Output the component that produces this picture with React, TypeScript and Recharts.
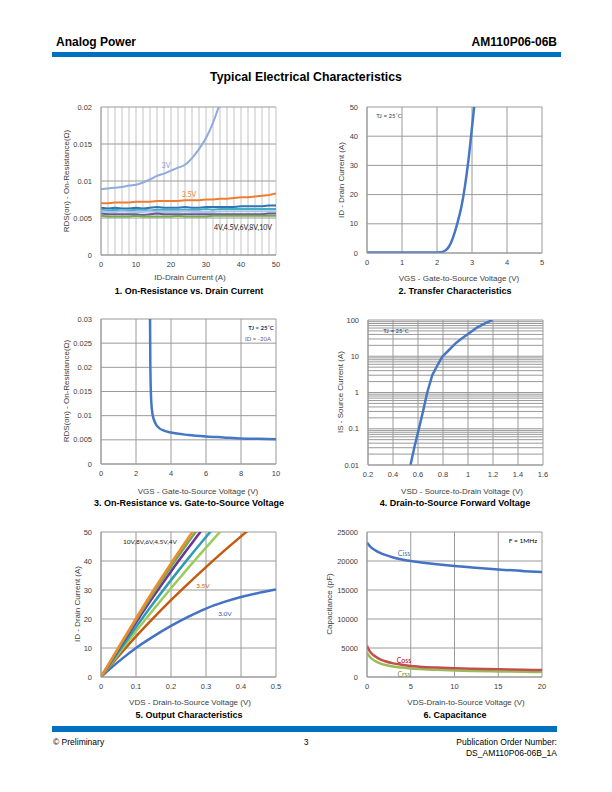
import React from 'react';
import { LineChart, Line, XAxis, YAxis, CartesianGrid } from 'recharts';

const FONT = '"Liberation Sans", Arial, Helvetica, sans-serif';
const NOTE_FONT = 'Lato, "Open Sans", sans-serif';
const BRAND_BLUE = '#0070C0';
const GRID = '#9A9A9A';
const GRID_LIGHT = '#C4C4C4';
const TEXT = '#404040';

// 1. On-Resistance vs. Drain Current (VGS curves)
const idCurrent = [0, 2, 4, 6, 8, 10, 12, 14, 16, 18, 20, 22, 24, 26, 28, 30, 32, 34, 36, 38, 40, 42, 44, 46, 48, 50];
const rds3V = [0.0089, 0.009, 0.0091, 0.0092, 0.0094, 0.0095, 0.0098, 0.0102, 0.0107, 0.011, 0.0114, 0.0118, 0.0122, 0.0131, 0.0143, 0.0158, 0.0179, 0.0205];
const rds35V = [0.007, 0.007, 0.0071, 0.0071, 0.0071, 0.0072, 0.0072, 0.0072, 0.0073, 0.0073, 0.0073, 0.0073, 0.0074, 0.0074, 0.0074, 0.0075, 0.0075, 0.0076, 0.0076, 0.0077, 0.0078, 0.0078, 0.0079, 0.008, 0.0081, 0.0083];
const rds4V = [0.0064, 0.0063, 0.0064, 0.0063, 0.0063, 0.0064, 0.0063, 0.0064, 0.0065, 0.0064, 0.0064, 0.0064, 0.0065, 0.0064, 0.0064, 0.0065, 0.0065, 0.0065, 0.0065, 0.0065, 0.0066, 0.0066, 0.0066, 0.0066, 0.0067, 0.0067];
const rds45V = [0.0061, 0.006, 0.0061, 0.006, 0.006, 0.0061, 0.0061, 0.006, 0.0061, 0.0061, 0.0061, 0.0061, 0.0061, 0.0061, 0.0061, 0.0062, 0.0061, 0.0062, 0.0062, 0.0062, 0.0062, 0.0062, 0.0062, 0.0062, 0.0062, 0.0062];
const rds6V = [0.0059, 0.0058, 0.0058, 0.0059, 0.0058, 0.0058, 0.0058, 0.0059, 0.0058, 0.0058, 0.0058, 0.0058, 0.0059, 0.0058, 0.0058, 0.0058, 0.0058, 0.0059, 0.0059, 0.0059, 0.0059, 0.0059, 0.0059, 0.0059, 0.0059, 0.0059];
const rds8V = [0.0056, 0.0055, 0.0055, 0.0055, 0.0055, 0.0055, 0.0054, 0.0055, 0.0056, 0.0055, 0.0055, 0.0055, 0.0055, 0.0055, 0.0055, 0.0055, 0.0055, 0.0055, 0.0055, 0.0055, 0.0055, 0.0055, 0.0055, 0.0055, 0.0056, 0.0056];
const rds10V = [0.0053, 0.0052, 0.0052, 0.0052, 0.0052, 0.0053, 0.0052, 0.0052, 0.0052, 0.0052, 0.0052, 0.0053, 0.0052, 0.0052, 0.0052, 0.0052, 0.0053, 0.0053, 0.0053, 0.0053, 0.0053, 0.0053, 0.0053, 0.0053, 0.0053, 0.0053];
const idTicks = [0, 2, 4, 6, 8, 10, 12, 14, 16, 18, 20, 22, 24, 26, 28, 30, 32, 34, 36, 38, 40, 42, 44, 46, 48, 50];
const rdsTicks1 = [0, 0.005, 0.01, 0.015, 0.02];

// 2. Transfer Characteristics
const vgsTransfer = [0, 0.5, 1, 1.5, 1.9, 2.1, 2.2, 2.3, 2.4, 2.5, 2.6, 2.7, 2.8, 2.9, 3.0, 3.07];
const idTransfer = [0.2, 0.2, 0.2, 0.2, 0.2, 0.3, 0.6, 1.5, 3.5, 6.8, 11, 16, 23, 32, 43, 51];
const vgsTicks5 = [0, 1, 2, 3, 4, 5];
const idTicks50 = [0, 10, 20, 30, 40, 50];

// 3. On-Resistance vs. Gate-to-Source Voltage
const vgsRds = [2.8, 2.82, 2.87, 2.95, 3.1, 3.3, 3.6, 4, 5, 6, 7, 8, 9, 10];
const rdsVgs = [0.031, 0.02, 0.013, 0.0102, 0.0085, 0.0075, 0.0069, 0.0065, 0.006, 0.0057, 0.0055, 0.0053, 0.0052, 0.0051];
const vgsTicks10 = [0, 2, 4, 6, 8, 10];
const rdsTicks3 = [0, 0.005, 0.01, 0.015, 0.02, 0.025, 0.03];

// 4. Drain-to-Source Forward Voltage
const vsd = [0.54, 0.57, 0.607, 0.64, 0.674, 0.714, 0.76, 0.794, 0.834, 0.9, 0.95, 0.995, 1.075, 1.14, 1.196];
const isCurrent = [0.01, 0.03, 0.1, 0.3, 1, 3, 6, 9.7, 13.3, 22.7, 31, 40, 63, 82, 100];
const vsdTicks = [0.2, 0.4, 0.6, 0.8, 1, 1.2, 1.4, 1.6];
const isDecades = [0.01, 0.1, 1, 10, 100];
const isGridTicks = isDecades.flatMap((d, i) =>
  i === isDecades.length - 1 ? [d] : [1, 2, 3, 4, 5, 6, 7, 8, 9].map((m) => +(d * m).toPrecision(2))
);

// 5. Output Characteristics
const vdsOut = [0, 0.05, 0.1, 0.15, 0.2, 0.25, 0.3, 0.35, 0.4, 0.45, 0.5];
const idOut3V = [0, 5.3, 10, 14, 17.6, 20.8, 23.6, 25.8, 27.6, 29, 30.2];
const idOut35V = [0, 7.2, 14, 20.4, 26.5, 32.3, 37.9, 43.3, 48.5, 53.5, 58.3];
const idOut4V = [0, 8, 15.8, 23.3, 30.6, 37.7, 44.6, 51.4];
const idOut45V = [0, 8.7, 17.2, 25.5, 33.4, 41, 48.3, 55.4];
const idOut6V = [0, 9.5, 18.8, 27.8, 36.4, 44.6, 52.6];
const idOut8V = [0, 9.9, 19.6, 29, 38, 46.6, 55];
const idOut10V = [0, 10.2, 20.2, 29.9, 39.2, 48.1, 56.8];
const vdsTicks = [0, 0.1, 0.2, 0.3, 0.4, 0.5];

// 6. Capacitance
const vdsCap = [0, 0.25, 0.5, 1, 1.5, 2, 3, 4, 5, 6, 8, 10, 12, 15, 18, 20];
const ciss = [23200, 22700, 22300, 21800, 21400, 21100, 20600, 20250, 20000, 19800, 19450, 19150, 18900, 18550, 18250, 18100];
const coss = [5400, 4600, 4100, 3500, 3050, 2750, 2350, 2100, 1900, 1780, 1620, 1500, 1420, 1320, 1240, 1200];
const crss = [4200, 3600, 3200, 2700, 2350, 2100, 1800, 1620, 1480, 1380, 1230, 1120, 1040, 960, 890, 850];
const capVdsTicks = [0, 5, 10, 15, 20];
const capTicks = [0, 5000, 10000, 15000, 20000, 25000];

const pts = (xs: number[], ys: number[]) => ys.map((y, i) => ({ x: xs[i], y }));

const PLOT_W = 175;
const tickStyle = { fontSize: 7.5, fill: TEXT, fontFamily: FONT };
const xCommon = {
  type: 'number' as const,
  dataKey: 'x',
  tickLine: false,
  tickSize: 6,
  tickMargin: 1,
  height: 20,
  interval: 0 as const,
  allowDataOverflow: true,
  axisLine: { stroke: GRID },
  tick: tickStyle,
};
const yCommon = {
  type: 'number' as const,
  dataKey: 'y',
  tickLine: false,
  tickSize: 6,
  tickMargin: 3,
  width: 60,
  interval: 0 as const,
  allowDataOverflow: true,
  axisLine: { stroke: GRID },
  tick: tickStyle,
};
const lineCommon = { type: 'monotone' as const, dataKey: 'y', dot: false, isAnimationActive: false };

function Plot({ left, top, h, children }: { left: number; top: number; h: number; children: React.ReactNode }) {
  return (
    <div style={{ position: 'absolute', left: left - 60, top: top - 10 }}>
      <LineChart width={60 + PLOT_W + 12} height={10 + h + 22} margin={{ top: 10, right: 12, bottom: 2, left: 0 }}>
        {children}
      </LineChart>
    </div>
  );
}

type TxtProps = {
  x: number;
  y: number;
  children: React.ReactNode;
  size?: number;
  color?: string;
  bold?: boolean;
  align?: 'left' | 'center' | 'right';
  font?: string;
  rotate?: boolean;
};

function Txt({ x, y, children, size = 8, color = TEXT, bold = false, align = 'center', font = FONT, rotate = false }: TxtProps) {
  const tx = align === 'center' ? '-50%' : align === 'right' ? '-100%' : '0';
  return (
    <div
      style={{
        position: 'absolute',
        left: x,
        top: y,
        transform: `translate(${tx}, -50%)${rotate ? ' rotate(-90deg)' : ''}`,
        fontSize: size,
        color,
        fontWeight: bold ? 700 : 400,
        fontFamily: font,
        whiteSpace: 'nowrap',
        lineHeight: 1,
      }}
    >
      {children}
    </div>
  );
}

export default function App() {
  return (
    <div style={{ position: 'absolute', left: 0, top: 0, width: 612, height: 792, background: '#fff', fontFamily: FONT, overflow: 'hidden' }}>
      {/* header */}
      <Txt x={56} y={42} size={12} bold color="#000" align="left">Analog Power</Txt>
      <Txt x={557} y={42} size={12} bold color="#000" align="right">AM110P06-06B</Txt>
      <div style={{ position: 'absolute', left: 52, top: 52, width: 509, height: 5, background: BRAND_BLUE }} />
      <Txt x={306} y={77} size={12.3} bold color="#000">Typical Electrical Characteristics</Txt>

      {/* 1 */}
      <Plot left={101} top={107} h={148}>
        <CartesianGrid horizontal={false} stroke={GRID_LIGHT} />
        <CartesianGrid vertical={false} stroke={GRID} />
        <XAxis {...xCommon} domain={[0, 50]} ticks={idTicks} tickFormatter={(v: number) => (v % 10 === 0 ? String(v) : '')} />
        <YAxis {...yCommon} domain={[0, 0.02]} ticks={rdsTicks1} />
        <Line {...lineCommon} data={pts(idCurrent, rds3V)} stroke="#8FAADC" strokeWidth={2} />
        <Line {...lineCommon} type="linear" data={pts(idCurrent, rds35V)} stroke="#ED7D31" strokeWidth={2} />
        <Line {...lineCommon} type="linear" data={pts(idCurrent, rds4V)} stroke="#2E75B6" strokeWidth={2} />
        <Line {...lineCommon} type="linear" data={pts(idCurrent, rds45V)} stroke="#4BACC6" strokeWidth={2} />
        <Line {...lineCommon} type="linear" data={pts(idCurrent, rds6V)} stroke="#A9C8E4" strokeWidth={2} />
        <Line {...lineCommon} type="linear" data={pts(idCurrent, rds8V)} stroke="#7451A2" strokeWidth={2} />
        <Line {...lineCommon} type="linear" data={pts(idCurrent, rds10V)} stroke="#70AD47" strokeWidth={2} />
      </Plot>
      <Txt x={166} y={165} size={7} color="#7F9ED6" font={NOTE_FONT}>3V</Txt>
      <Txt x={189} y={194} size={7} color="#ED7D31" font={NOTE_FONT}>3.5V</Txt>
      <Txt x={243} y={227} size={7} color="#222" font={NOTE_FONT}>4V,4.5V,6V,8V,10V</Txt>
      <Txt x={67} y={181} rotate>RDS(on) - On-Resistance(Ω)</Txt>
      <Txt x={190} y={278}>ID-Drain Current (A)</Txt>
      <Txt x={189} y={291} size={9} bold color="#000">1. On-Resistance vs. Drain Current</Txt>

      {/* 2 */}
      <Plot left={367} top={107} h={146}>
        <CartesianGrid stroke={GRID} />
        <XAxis {...xCommon} domain={[0, 5]} ticks={vgsTicks5} />
        <YAxis {...yCommon} domain={[0, 50]} ticks={idTicks50} />
        <Line {...lineCommon} data={pts(vgsTransfer, idTransfer)} stroke="#4677C5" strokeWidth={2.5} />
      </Plot>
      <Txt x={389} y={116} size={6} color="#1F3864" font={NOTE_FONT}>TJ = 25˚C</Txt>
      <Txt x={342} y={180} rotate>ID - Drain Current (A)</Txt>
      <Txt x={459} y={279}>VGS - Gate-to-Source Voltage (V)</Txt>
      <Txt x={455} y={291} size={9} bold color="#000">2. Transfer Characteristics</Txt>

      {/* 3 */}
      <Plot left={101} top={319} h={145}>
        <CartesianGrid stroke={GRID} />
        <XAxis {...xCommon} domain={[0, 10]} ticks={vgsTicks10} />
        <YAxis {...yCommon} domain={[0, 0.03]} ticks={rdsTicks3} />
        <Line {...lineCommon} data={pts(vgsRds, rdsVgs)} stroke="#4677C5" strokeWidth={2.5} />
      </Plot>
      <Txt x={261} y={328} size={6} bold color="#1F3864" font={NOTE_FONT}>TJ = 25˚C</Txt>
      <Txt x={258} y={339} size={6} color="#6B5A8A" font={NOTE_FONT}>ID = -20A</Txt>
      <Txt x={67} y={391} rotate>RDS(on) - On-Resistance(Ω)</Txt>
      <Txt x={198} y={492}>VGS - Gate-to-Source Voltage (V)</Txt>
      <Txt x={189} y={503} size={9} bold color="#000">3. On-Resistance vs. Gate-to-Source Voltage</Txt>

      {/* 4 */}
      <Plot left={368} top={320} h={145}>
        <CartesianGrid stroke={GRID} />
        <XAxis {...xCommon} domain={[0.2, 1.6]} ticks={vsdTicks} />
        <YAxis
          {...yCommon}
          scale="log"
          domain={[0.01, 100]}
          ticks={isGridTicks}
          tickFormatter={(v: number) => (isDecades.includes(v) ? String(v) : '')}
        />
        <Line {...lineCommon} type="linear" data={pts(vsd, isCurrent)} stroke="#4677C5" strokeWidth={2.5} />
      </Plot>
      <Txt x={396} y={331} size={6} color="#1F3864" font={NOTE_FONT}>TJ = 25˚C</Txt>
      <Txt x={341} y={392} rotate>IS - Source Current (A)</Txt>
      <Txt x={462} y={492}>VSD - Source-to-Drain Voltage (V)</Txt>
      <Txt x={455} y={503} size={9} bold color="#000">4. Drain-to-Source Forward Voltage</Txt>

      {/* 5 */}
      <Plot left={101} top={532} h={145}>
        <CartesianGrid stroke={GRID} />
        <XAxis {...xCommon} domain={[0, 0.5]} ticks={vdsTicks} />
        <YAxis {...yCommon} domain={[0, 50]} ticks={idTicks50} />
        <Line {...lineCommon} data={pts(vdsOut, idOut3V)} stroke="#4472C4" strokeWidth={2.5} />
        <Line {...lineCommon} data={pts(vdsOut, idOut35V)} stroke="#C55A11" strokeWidth={2.5} />
        <Line {...lineCommon} data={pts(vdsOut, idOut4V)} stroke="#9BCB5B" strokeWidth={2.5} />
        <Line {...lineCommon} data={pts(vdsOut, idOut45V)} stroke="#2E9CB0" strokeWidth={2.5} />
        <Line {...lineCommon} data={pts(vdsOut, idOut6V)} stroke="#7030A0" strokeWidth={2.5} />
        <Line {...lineCommon} data={pts(vdsOut, idOut8V)} stroke="#70AD47" strokeWidth={2.5} />
        <Line {...lineCommon} data={pts(vdsOut, idOut10V)} stroke="#F08A30" strokeWidth={2.5} />
      </Plot>
      <Txt x={150} y={542} size={6.5} color="#222" font={NOTE_FONT}>10V,8V,6V,4.5V,4V</Txt>
      <Txt x={203} y={586} size={6.5} color="#C55A11" font={NOTE_FONT}>3.5V</Txt>
      <Txt x={225} y={614} size={6.5} color="#2F5597" font={NOTE_FONT}>3.0V</Txt>
      <Txt x={78} y={604} rotate>ID - Drain Current (A)</Txt>
      <Txt x={190} y={703}>VDS - Drain-to-Source Voltage (V)</Txt>
      <Txt x={189} y={715} size={9} bold color="#000">5. Output Characteristics</Txt>

      {/* 6 */}
      <Plot left={367} top={532} h={145}>
        <CartesianGrid stroke={GRID} />
        <XAxis {...xCommon} domain={[0, 20]} ticks={capVdsTicks} />
        <YAxis {...yCommon} domain={[0, 25000]} ticks={capTicks} />
        <Line {...lineCommon} data={pts(vdsCap, ciss)} stroke="#4472C4" strokeWidth={2.5} />
        <Line {...lineCommon} data={pts(vdsCap, crss)} stroke="#9BBB59" strokeWidth={2.5} />
        <Line {...lineCommon} data={pts(vdsCap, coss)} stroke="#C0504D" strokeWidth={2.5} />
      </Plot>
      <Txt x={523} y={541} size={6.5} color="#000" font={NOTE_FONT}>F = 1MHz</Txt>
      <Txt x={404} y={553} size={7} color="#4472C4" font={NOTE_FONT}>Ciss</Txt>
      <Txt x={404} y={660} size={7} color="#C00000" font={NOTE_FONT}>Coss</Txt>
      <Txt x={404} y={674} size={7} color="#77933C" font={NOTE_FONT}>Crss</Txt>
      <Txt x={330} y={604} rotate>Capacitance (pF)</Txt>
      <Txt x={466} y={703}>VDS-Drain-to-Source Voltage (V)</Txt>
      <Txt x={455} y={715} size={9} bold color="#000">6. Capacitance</Txt>

      {/* footer */}
      <div style={{ position: 'absolute', left: 52, top: 726, width: 505, height: 6, background: BRAND_BLUE }} />
      <Txt x={53} y={742} size={8.5} color="#000" align="left">© Preliminary</Txt>
      <Txt x={306} y={742} size={8.5} color="#000">3</Txt>
      <Txt x={557} y={742} size={8.5} color="#000" align="right">Publication Order Number:</Txt>
      <Txt x={557} y={753} size={8.5} color="#000" align="right">DS_AM110P06-06B_1A</Txt>
    </div>
  );
}
